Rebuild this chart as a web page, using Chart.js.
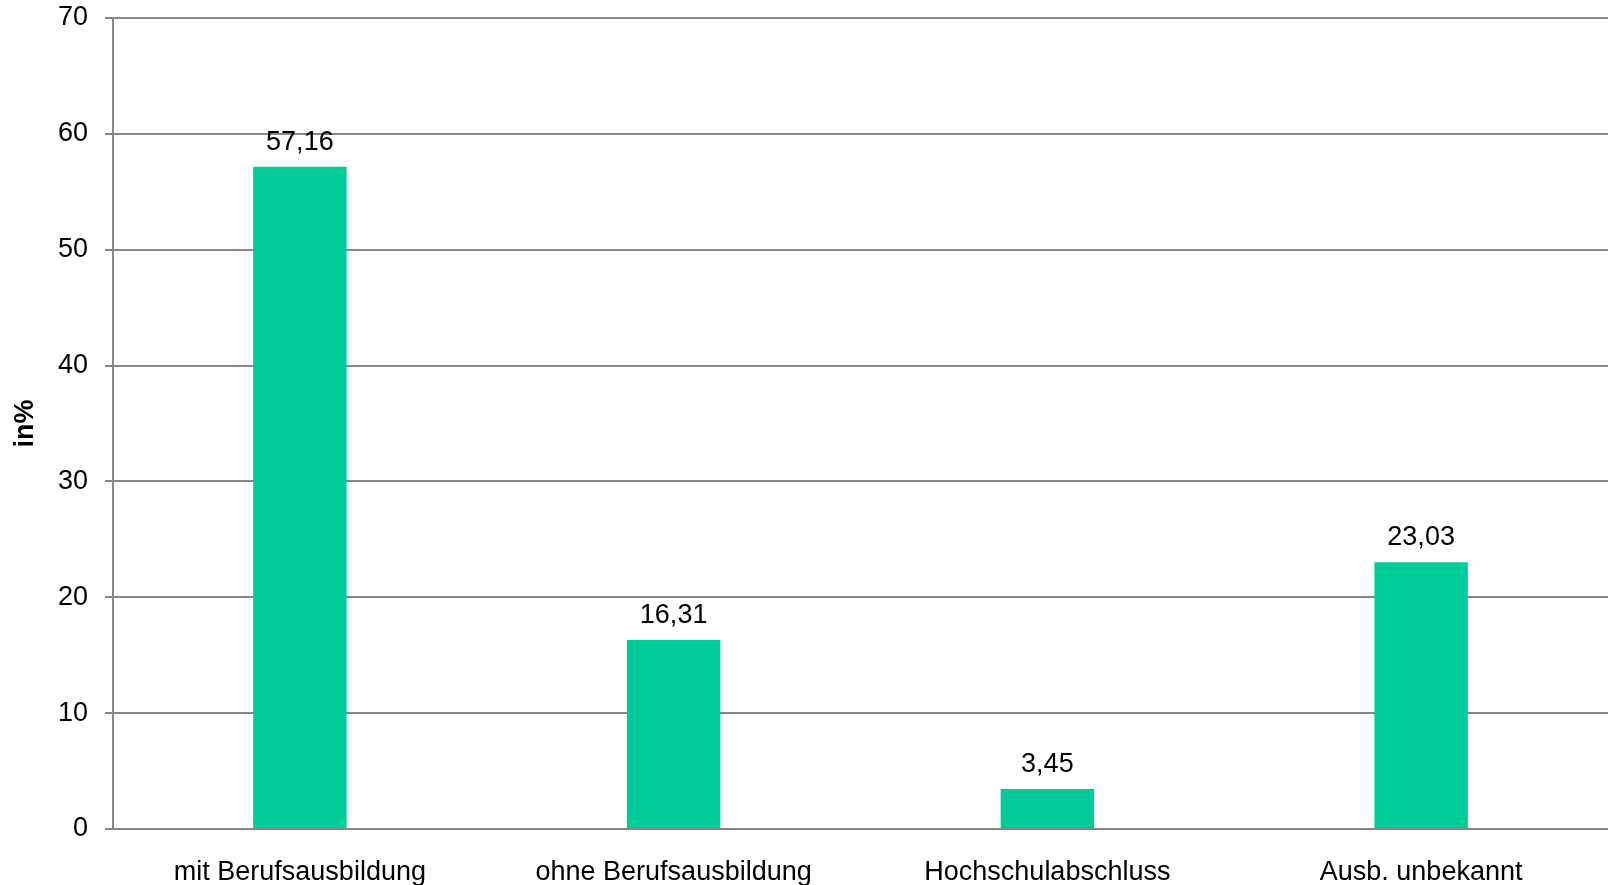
<!DOCTYPE html>
<html>
<head>
<meta charset="utf-8">
<script src="https://cdn.jsdelivr.net/npm/chart.js@4"></script>
<style>
html,body{margin:0;padding:0;background:#fff;}
#wrap{width:1608px;height:885px;position:relative;}
</style>
</head>
<body>
<div id="wrap"><canvas id="c" width="1608" height="885"></canvas></div>
<script>
const categories = ["mit Berufsausbildung", "ohne Berufsausbildung", "Hochschulabschluss", "Ausb. unbekannt"];
const values = [57.16, 16.31, 3.45, 23.03];
const yTitle = "in%";

const FONT = "'Liberation Sans', Arial, sans-serif";
const GRID = "#868686";

const labelPlugin = {
  id: 'valueLabels',
  afterDatasetsDraw(chart) {
    const ctx = chart.ctx;
    const meta = chart.getDatasetMeta(0);
    ctx.save();
    ctx.font = "27px " + FONT;
    ctx.fillStyle = "#000";
    ctx.textAlign = "center";
    ctx.textBaseline = "alphabetic";
    meta.data.forEach((bar, i) => {
      ctx.fillText(values[i].toFixed(2).replace('.', ','), bar.x, bar.y - 17);
    });
    ctx.restore();
  }
};

new Chart(document.getElementById('c'), {
  type: 'bar',
  data: {
    labels: categories,
    datasets: [{
      data: values,
      backgroundColor: '#00CC99',
      borderWidth: 0,
      categoryPercentage: 1,
      barPercentage: 0.25
    }]
  },
  options: {
    responsive: false,
    animation: false,
    devicePixelRatio: 1,
    layout: { padding: { top: 18, right: 0, left: 0, bottom: 0 } },
    plugins: { legend: { display: false }, tooltip: { enabled: false } },
    scales: {
      x: {
        grid: { display: false },
        border: { display: false },
        ticks: { color: '#000', font: { family: FONT, size: 27 }, padding: 19, maxRotation: 0 },
        afterFit(s) { s.height = 56; s.paddingLeft = 0; s.paddingRight = 0; }
      },
      y: {
        min: 0, max: 70,
        ticks: { stepSize: 10, color: '#000', font: { family: FONT, size: 27 }, padding: 17 },
        grid: { color: GRID, lineWidth: 2, tickLength: 8, drawTicks: true },
        border: { color: GRID, width: 2 },
        title: { display: true, text: yTitle, color: '#000', font: { family: FONT, size: 27, weight: 'bold' }, padding: { top: 9, bottom: 0 } },
        afterFit(s) { s.width = 113; s.paddingTop = 0; s.paddingBottom = 0; }
      }
    }
  },
  plugins: [labelPlugin]
});
</script>
</body>
</html>
